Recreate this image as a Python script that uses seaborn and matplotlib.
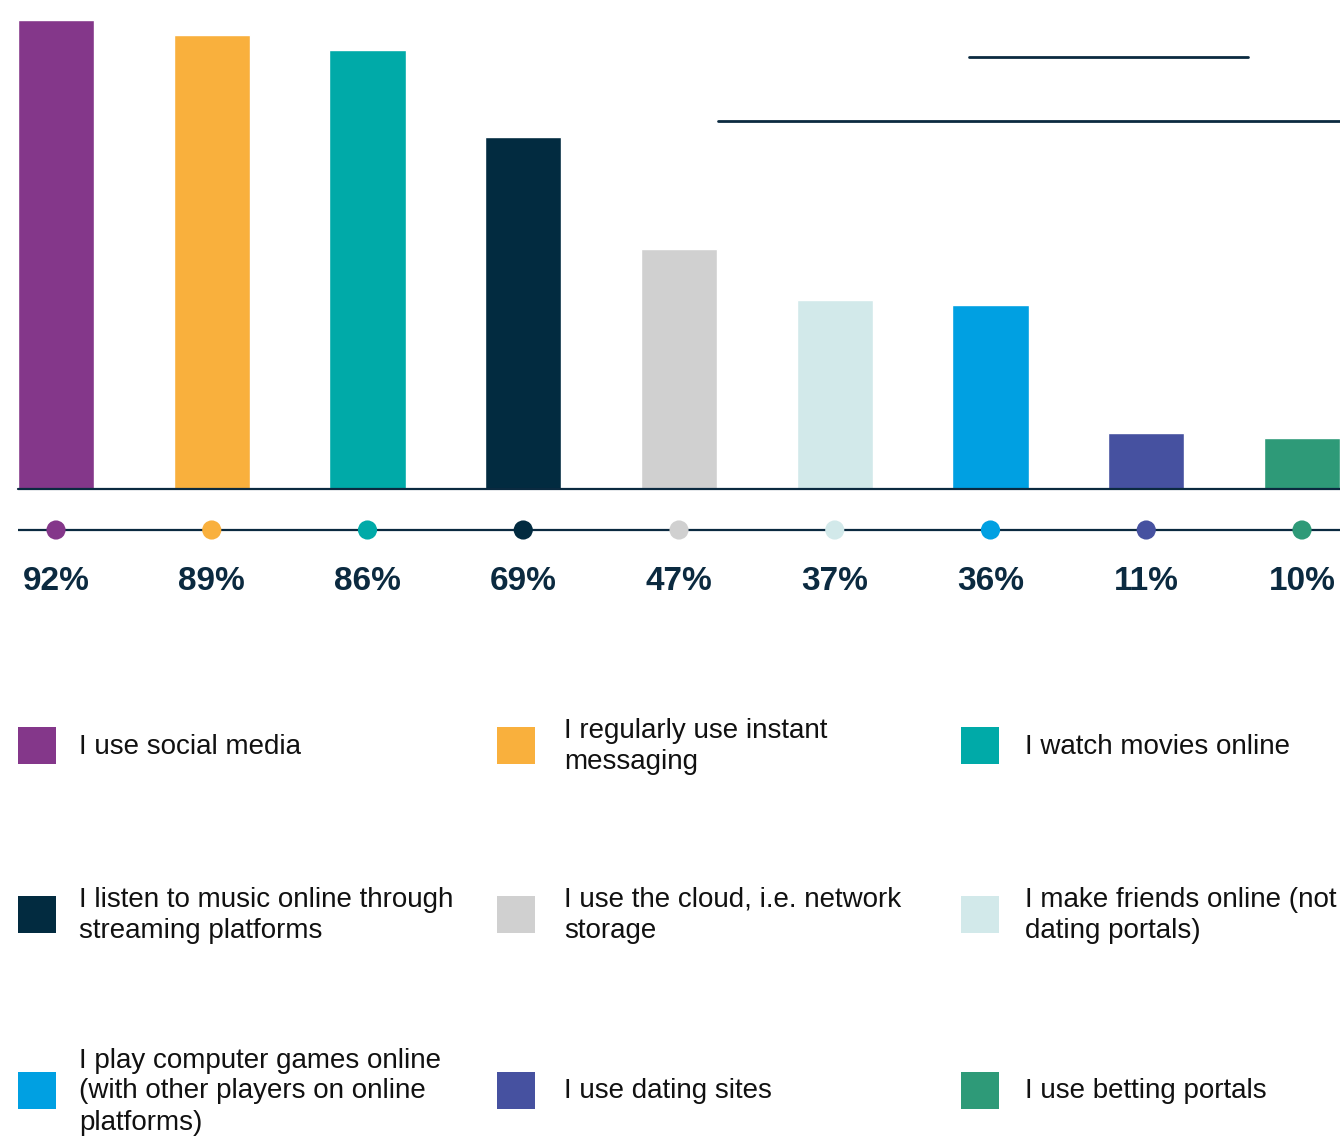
import numpy as np
import pandas as pd
import matplotlib
matplotlib.use("Agg")
import matplotlib.pyplot as plt
from matplotlib.lines import Line2D
from matplotlib.patches import Rectangle
import seaborn as sns

# Share of respondents doing each online activity
activities = [
    "I use social media",
    "I regularly use instant\nmessaging",
    "I watch movies online",
    "I listen to music online through\nstreaming platforms",
    "I use the cloud, i.e. network\nstorage",
    "I make friends online (not\ndating portals)",
    "I play computer games online\n(with other players on online\nplatforms)",
    "I use dating sites",
    "I use betting portals",
]
shares = [92, 89, 86, 69, 47, 37, 36, 11, 10]
palette = ["#84378a", "#f9b03d", "#00aaa8", "#022b40", "#d0d0d0",
           "#d2e9ea", "#00a0e2", "#4651a0", "#2e9a78"]

NAVY = "#0b2a40"
W, H = 1340, 1138

sns.set_theme(style="white")
plt.rcParams["font.family"] = ["Liberation Sans", "DejaVu Sans"]

fig = plt.figure(figsize=(W / 100, H / 100), dpi=100)


def px_axes(x0, y0, x1, y1):
    """Axes placed by pixel box (top-left origin)."""
    return fig.add_axes([x0 / W, 1 - y1 / H, (x1 - x0) / W, (y1 - y0) / H])


df = pd.DataFrame({"activity": activities, "share": shares})
pos = np.arange(len(shares))
bar_w = 0.488
xlim = (-bar_w / 2, len(shares) - 1 + bar_w / 2)

# Bars
ax = px_axes(18, 18, 1340, 489)
sns.barplot(data=df, x="activity", y="share", hue="activity", palette=palette,
            saturation=1, width=bar_w, legend=False, ax=ax)
ax.set_xlim(*xlim)
ax.set_ylim(0, 471 / 5.1)
ax.axhline(0, color=NAVY, lw=1.6, clip_on=False)
ax.set_axis_off()

# Dot strip with value labels
axd = px_axes(18, 500, 1340, 610)
axd.set_xlim(*xlim)
axd.set_ylim(610, 500)
axd.axhline(530, color=NAVY, lw=1.6, zorder=1)
sns.scatterplot(x=pos, y=[530] * len(pos), hue=activities, palette=palette,
                s=190, linewidth=0, legend=False, ax=axd, zorder=3)
for p, v in zip(pos, shares):
    axd.text(p, 590, f"{v}%", ha="center", va="baseline", fontsize=24,
             fontweight="bold", color=NAVY)
axd.set_axis_off()

# Decorative rules in the upper right
fig.add_artist(Line2D([969 / W, 1248 / W], [1 - 57 / H, 1 - 57 / H],
                      color=NAVY, lw=2))
fig.add_artist(Line2D([718 / W, 1340 / W], [1 - 121 / H, 1 - 121 / H],
                      color=NAVY, lw=2))

# Legend grid
axl = px_axes(0, 690, W, H)
axl.set_xlim(0, W)
axl.set_ylim(H, 690)
col_sq = [18, 497, 961]
col_tx = [79, 564, 1025]
row_cy = [745.5, 914.5, 1090.5]
for i, (label, c) in enumerate(zip(activities, palette)):
    r, k = divmod(i, 3)
    axl.add_patch(Rectangle((col_sq[k], row_cy[r] - 18.5), 38, 37,
                            facecolor=c, edgecolor="none"))
    axl.text(col_tx[k], row_cy[r] + 1, label, ha="left", va="center",
             fontsize=20, color="#111111", linespacing=1.25)
axl.set_axis_off()

fig.savefig("out.png", dpi=100, facecolor="white")
